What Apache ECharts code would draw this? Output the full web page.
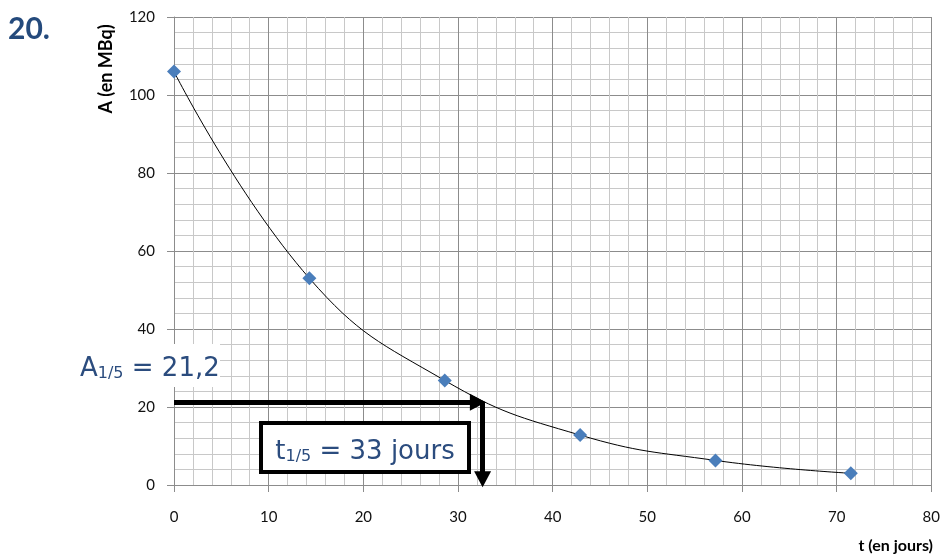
<!DOCTYPE html>
<html>
<head>
<meta charset="utf-8">
<script src="https://cdn.jsdelivr.net/npm/echarts@6/dist/echarts.min.js"></script>
<style>
html,body{margin:0;padding:0;background:#fff;}
#chart{width:943px;height:555px;}
</style>
</head>
<body>
<div id="chart"></div>
<script>
// ---- data ----
const days = [0, 14.3, 28.6, 42.9, 57.2, 71.5];
const activity = [106, 53, 26.8, 12.8, 6.3, 3.0];
const xRange = [0, 80];
const yRange = [0, 120];
const xStep = 10;
const yStep = 20;
const halfA = 21.2;      // A1/5 level
const arrowT = 32.6;     // where the arrow drops
const problemNumber = '20.';
const yName = 'A (en MBq)';
const xName = 't (en jours)';
const aLabel = ['A', '1/5', ' = 21,2'];
const tLabel = ['t', '1/5', ' = 33 jours'];

const chart = echarts.init(document.getElementById('chart'), null, {renderer: 'canvas'});
const major = '#8c8c8c', minor = '#c8c8c8', ink = '#2b4c7e';
const labelFont = {fontFamily: 'Lato', fontSize: 15, color: '#111'};

const option = {
  animation: false,
  backgroundColor: '#fff',
  grid: {left: 174, top: 17, width: 761, height: 468, containLabel: false},
  xAxis: {
    type: 'value', min: xRange[0], max: xRange[1], interval: xStep,
    axisLine: {show: true, onZero: false, lineStyle: {color: major, width: 1}},
    axisTick: {show: true, length: 7, lineStyle: {color: major}},
    axisLabel: Object.assign({margin: 25}, labelFont),
    splitLine: {show: true, lineStyle: {color: major, width: 1}},
    minorTick: {show: false, splitNumber: 5},
    minorSplitLine: {show: true, lineStyle: {color: minor, width: 1}}
  },
  yAxis: {
    type: 'value', min: yRange[0], max: yRange[1], interval: yStep,
    axisLine: {show: true, onZero: false, lineStyle: {color: major, width: 1}},
    axisTick: {show: true, length: 7, lineStyle: {color: major}},
    axisLabel: Object.assign({margin: 19}, labelFont),
    splitLine: {show: true, lineStyle: {color: major, width: 1}},
    minorTick: {show: false, splitNumber: 5},
    minorSplitLine: {show: true, lineStyle: {color: minor, width: 1}}
  },
  series: [{
    type: 'line',
    data: days.map((d, i) => [d, activity[i]]),
    smooth: 0.45,
    symbol: 'diamond',
    symbolSize: 14,
    itemStyle: {color: '#4a7ebb'},
    lineStyle: {color: '#000', width: 1},
    z: 3,
    markLine: {
      silent: true,
      symbol: ['none', 'triangle'],
      symbolSize: [17, 16],
      lineStyle: {color: '#000', width: 5, type: 'solid'},
      label: {show: false},
      emphasis: {disabled: true},
      data: [
        [{coord: [xRange[0], halfA]}, {coord: [arrowT - 0.5, halfA]}],
        [{coord: [arrowT, halfA]}, {coord: [arrowT, yRange[0] + 1.5]}]
      ]
    }
  }],
  graphic: [
    {type: 'text', left: 8, top: 14, z: 100,
     style: {text: problemNumber, font: 'bold 30px Lato', fill: '#244a7c'}},
    {type: 'text', x: 106, y: 69, rotation: Math.PI / 2, z: 100,
     style: {text: yName, font: 'bold 18px Lato', fill: '#000', align: 'center', verticalAlign: 'middle'}},
    {type: 'text', x: 933, y: 546, z: 100,
     style: {text: xName, font: 'bold 16px Lato', fill: '#000', align: 'right', verticalAlign: 'middle'}},
    {type: 'rect', z: 100, shape: {x: 78, y: 344, width: 142, height: 43}, style: {fill: '#fff'}},
    {type: 'text', x: 80, y: 367, z: 101,
     style: {
       text: '{a|' + aLabel[0] + '}{s|' + aLabel[1] + '}{a|' + aLabel[2] + '}',
       align: 'left', verticalAlign: 'middle',
       rich: {
         a: {fontFamily: 'DejaVu Sans', fontSize: 26, fill: ink, color: ink, lineHeight: 30, verticalAlign: 'bottom'},
         s: {fontFamily: 'DejaVu Sans', fontSize: 16, fill: ink, color: ink, lineHeight: 14, verticalAlign: 'bottom'}
       }
     }},
    {type: 'rect', z: 100, shape: {x: 261, y: 423, width: 208, height: 49},
     style: {fill: '#fff', stroke: '#000', lineWidth: 4}},
    {type: 'text', x: 365, y: 450, z: 101,
     style: {
       text: '{a|' + tLabel[0] + '}{s|' + tLabel[1] + '}{a|' + tLabel[2] + '}',
       align: 'center', verticalAlign: 'middle',
       rich: {
         a: {fontFamily: 'DejaVu Sans', fontSize: 26, fill: ink, color: ink, lineHeight: 30, verticalAlign: 'bottom'},
         s: {fontFamily: 'DejaVu Sans', fontSize: 16, fill: ink, color: ink, lineHeight: 14, verticalAlign: 'bottom'}
       }
     }}
  ]
};
chart.setOption(option);
</script>
</body>
</html>
